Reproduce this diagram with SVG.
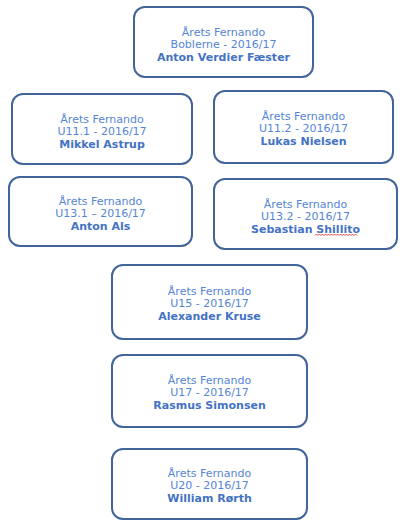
<svg xmlns="http://www.w3.org/2000/svg" width="410" height="528" viewBox="0 0 410 528">
<style>
.box{fill:#fff;stroke:#41649A;stroke-width:2}
text{font-family:"DejaVu Sans",Verdana,sans-serif;font-size:11px;text-anchor:middle;fill:#5585D6}
.b{font-weight:bold;fill:#4472C4}
</style>
<rect width="410" height="528" fill="#fff"/>
<g id="connectors"></g>
<g id="n1"><rect class="box" x="134" y="7" width="179" height="70" rx="11"/>
<text x="223.5" y="36">Årets Fernando</text><text x="223.5" y="48">Boblerne - 2016/17</text><text class="b" x="223.5" y="61">Anton Verdier Fæster</text></g>
<g id="n2"><rect class="box" x="12" y="94" width="180" height="70" rx="11"/>
<text x="102" y="123">Årets Fernando</text><text x="102" y="135">U11.1 - 2016/17</text><text class="b" x="102" y="148">Mikkel Astrup</text></g>
<g id="n3"><rect class="box" x="214" y="91" width="179" height="72" rx="11"/>
<text x="303.5" y="120">Årets Fernando</text><text x="303.5" y="132">U11.2 - 2016/17</text><text class="b" x="303.5" y="145">Lukas Nielsen</text></g>
<g id="n4"><rect class="box" x="9" y="177" width="183" height="69" rx="11"/>
<text x="100.5" y="205">Årets Fernando</text><text x="100.5" y="217">U13.1 – 2016/17</text><text class="b" x="100.5" y="230">Anton Als</text></g>
<g id="n5"><rect class="box" x="214" y="179" width="183" height="70" rx="11"/>
<text x="305.5" y="208">Årets Fernando</text><text x="305.5" y="220">U13.2 - 2016/17</text><text class="b" x="305.5" y="233">Sebastian Shillito</text>
<path d="M315 235.5 l1.5 -1.5 l1.5 1.5 l1.5 -1.5 l1.5 1.5 l1.5 -1.5 l1.5 1.5 l1.5 -1.5 l1.5 1.5 l1.5 -1.5 l1.5 1.5 l1.5 -1.5 l1.5 1.5 l1.5 -1.5 l1.5 1.5 l1.5 -1.5 l1.5 1.5 l1.5 -1.5 l1.5 1.5 l1.5 -1.5 l1.5 1.5 l1.5 -1.5 l1.5 1.5 l1.5 -1.5 l1.5 1.5 l1.5 -1.5 l1.5 1.5 l1.5 -1.5 l1.5 1.5" fill="none" stroke="#E02020" stroke-width="0.8"/></g>
<g id="n6"><rect class="box" x="112" y="265" width="195" height="74" rx="11"/>
<text x="209.5" y="295">Årets Fernando</text><text x="209.5" y="307">U15 - 2016/17</text><text class="b" x="209.5" y="320">Alexander Kruse</text></g>
<g id="n7"><rect class="box" x="112" y="355" width="195" height="72" rx="11"/>
<text x="209.5" y="384">Årets Fernando</text><text x="209.5" y="396">U17 - 2016/17</text><text class="b" x="209.5" y="409">Rasmus Simonsen</text></g>
<g id="n8"><rect class="box" x="112" y="449" width="195" height="70" rx="11"/>
<text x="209.5" y="477">Årets Fernando</text><text x="209.5" y="489">U20 - 2016/17</text><text class="b" x="209.5" y="502">William Rørth</text></g>
</svg>
